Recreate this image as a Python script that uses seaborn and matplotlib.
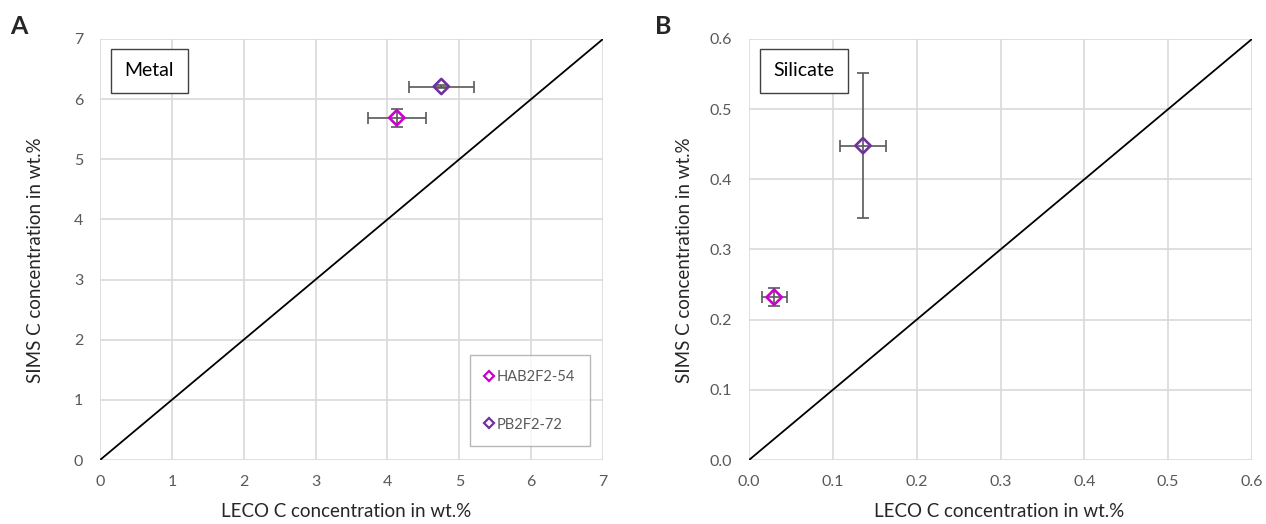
import matplotlib
matplotlib.use("Agg")
import matplotlib.pyplot as plt
import seaborn as sns
import pandas as pd

sns.set_theme(style="white")
plt.rcParams["font.family"] = ["Lato", "DejaVu Sans"]

samples = ["HAB2F2-54", "PB2F2-72"]
colors = ["#CC00CC", "#7030A0"]

# Metal phase
metal_leco = [4.13, 4.75]
metal_leco_err = [0.40, 0.45]
metal_sims = [5.69, 6.21]
metal_sims_err = [0.15, 0.03]

# Silicate phase
sil_leco = [0.030, 0.136]
sil_leco_err = [0.015, 0.028]
sil_sims = [0.232, 0.448]
sil_sims_err = [0.013, 0.103]

metal_ticks = [0, 1, 2, 3, 4, 5, 6, 7]
sil_ticks = [0.0, 0.1, 0.2, 0.3, 0.4, 0.5, 0.6]

GRID = "#d9d9d9"
TXT = "#595959"
ERR = "#595959"

W, H = 1266, 524
fig = plt.figure(figsize=(W / 100, H / 100), dpi=100)
axA = fig.add_axes([100 / W, 1 - 460 / H, 503 / W, 421 / H])
axB = fig.add_axes([749 / W, 1 - 460 / H, 503 / W, 421 / H])


def panel(ax, leco, leco_err, sims, sims_err, ticks, ticklabels, title,
          legend, xlab_x):
    lo, hi = ticks[0], ticks[-1]
    df = pd.DataFrame({"leco": leco, "sims": sims, "sample": samples})
    for i in range(len(samples)):
        ax.errorbar(leco[i], sims[i], xerr=leco_err[i], yerr=sims_err[i],
                    fmt="none", ecolor=ERR, elinewidth=1.2, capsize=4,
                    capthick=1.2, zorder=3)
    sns.scatterplot(data=df, x="leco", y="sims", hue="sample",
                    palette=dict(zip(samples, colors)), marker="D",
                    s=60, facecolor="none", linewidth=1.9, ax=ax,
                    legend=False, zorder=4)
    # hollow diamonds coloured by sample
    coll = ax.collections[-1]
    coll.set_facecolors("none")
    coll.set_edgecolors(colors)
    sns.lineplot(x=[lo, hi], y=[lo, hi], color="black", linewidth=1.3,
                 ax=ax, zorder=2)
    ax.set_xlim(lo, hi)
    ax.set_ylim(lo, hi)
    ax.set_xticks(ticks)
    ax.set_yticks(ticks)
    ax.set_xticklabels(ticklabels)
    ax.set_yticklabels(ticklabels)
    ax.grid(True, color=GRID, linewidth=1.2, zorder=0)
    ax.set_axisbelow(True)
    for s in ax.spines.values():
        s.set_visible(False)
    ax.tick_params(axis="both", length=0, labelsize=11.5, labelcolor=TXT)
    ax.tick_params(axis="y", pad=12)
    ax.tick_params(axis="x", pad=11)
    ax.set_xlabel("LECO C concentration in wt.%", fontsize=13.5)
    ax.set_ylabel("SIMS C concentration in wt.%", fontsize=13.5)
    ax.xaxis.set_label_coords(xlab_x, -0.103)
    ax.yaxis.set_label_coords(-0.112, 0.475)
    ax.text(0.049, 0.945, title, transform=ax.transAxes, fontsize=14,
            va="top", ha="left", color="black",
            bbox=dict(boxstyle="square,pad=0.7", facecolor="white",
                      edgecolor="#404040", linewidth=1.0))
    if legend:
        handles = [plt.Line2D([], [], marker="D", linestyle="none",
                              markerfacecolor="none", markeredgecolor=c,
                              markeredgewidth=1.6, markersize=5.5)
                   for c in colors]
        leg = ax.legend(handles, samples, loc="lower right",
                        bbox_to_anchor=(0.974, 0.033), frameon=True,
                        fancybox=False, fontsize=10.5, labelcolor=TXT,
                        labelspacing=2.3, handlelength=0.6,
                        handletextpad=0.25, borderpad=1.0,
                        borderaxespad=0.0)
        leg.get_frame().set_edgecolor("#a6a6a6")
        leg.get_frame().set_linewidth(1.0)


panel(axA, metal_leco, metal_leco_err, metal_sims, metal_sims_err,
      metal_ticks, [str(t) for t in metal_ticks], "Metal", True, 0.489)
panel(axB, sil_leco, sil_leco_err, sil_sims, sil_sims_err,
      sil_ticks, [f"{t:.1f}" for t in sil_ticks], "Silicate", False, 0.497)

fig.text(10 / W, 1 - 26 / H, "A", fontsize=18, fontweight="bold",
         va="center", ha="left")
fig.text(655 / W, 1 - 26 / H, "B", fontsize=18, fontweight="bold",
         va="center", ha="left")

fig.savefig("out.png", dpi=100)
